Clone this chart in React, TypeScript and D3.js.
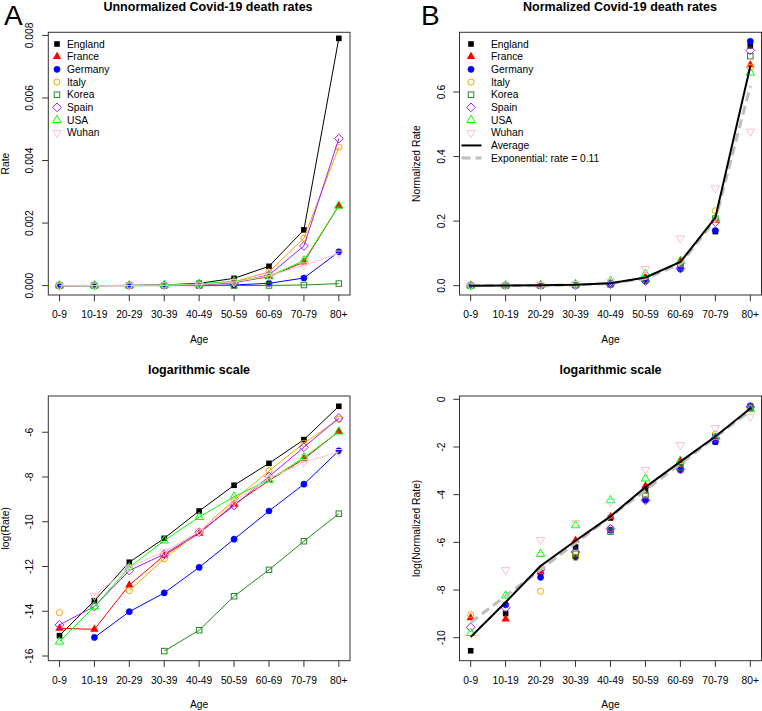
import * as d3 from "d3";
import React from "react";

const ages = ["0-9", "10-19", "20-29", "30-39", "40-49", "50-59", "60-69", "70-79", "80+"];
const countries = ["England", "France", "Germany", "Italy", "Korea", "Spain", "USA", "Wuhan"];
const colors = ["black", "red", "blue", "orange", "forestgreen", "#A020F0", "#00FF00", "pink"];
const pchs = [15, 17, 16, 1, 0, 5, 2, 6];

// log(death rate) per age group, null = no deaths recorded
const england = [-15.09, -13.53, -11.81, -10.74, -9.52, -8.37, -7.39, -6.33, -4.84];
const france = [-14.76, -14.81, -12.83, -11.51, -10.52, -9.22, -8.16, -7.19, -5.97];
const germany = [null, -15.17, -14.02, -13.18, -12.04, -10.78, -9.52, -8.32, -6.83];
const italy = [-14.06, null, -13.08, -11.66, -10.44, -9.03, -7.73, -6.49, -5.42];
const korea = [null, null, null, -15.78, -14.85, -13.33, -12.15, -10.87, -9.64];
const spain = [-14.61, -13.79, -12.18, -11.45, -10.47, -9.28, -7.98, -6.67, -5.36];
const usa = [-15.36, -13.79, -12.04, -10.84, -9.79, -8.88, -8.13, -7.13, -5.97];
const wuhan = [null, -13.3, -12.04, -11.33, -10.44, -9.1, -8.06, -7.34, -6.88];

// exponential fit (log normalized rate)
const expFit = [-9.36, -8.25, -7.14, -6.03, -4.92, -3.81, -2.7, -1.59, -0.48];

const yTicksA = [0, 0.002, 0.004, 0.006, 0.008];
const yTicksB = [0, 0.2, 0.4, 0.6];
const yTicksC = [-16, -14, -12, -10, -8, -6];
const yTicksD = [-10, -8, -6, -4, -2, 0];

const logRates = [england, france, germany, italy, korea, spain, usa, wuhan];
const rates = logRates.map(s => s.map(v => (v == null ? 0 : Math.exp(v))));
const normRates = rates.map(s => {
  const tot = d3.sum(s);
  return s.map(v => v / tot);
});
const logNorm = normRates.map(s => s.map(v => (v > 0 ? Math.log(v) : null)));
const avg = ages.map((_, i) => d3.mean(normRates, s => s[i]) as number);
const avgLog = avg.map(v => Math.log(v));
const expFitRate = expFit.map(v => Math.exp(v));

const FONT = "'Liberation Sans', Arial, Helvetica, sans-serif";
const FS = 10.3;
const R = 3.1;

function Marker({ pch, x, y, color }: { pch: number; x: number; y: number; color: string }) {
  const tr = R * 1.555;
  const up = `${x},${y - tr} ${x - tr * 0.866},${y + tr * 0.5} ${x + tr * 0.866},${y + tr * 0.5}`;
  const down = `${x},${y + tr} ${x - tr * 0.866},${y - tr * 0.5} ${x + tr * 0.866},${y - tr * 0.5}`;
  const d = R * 1.414;
  switch (pch) {
    case 15:
      return <rect x={x - 2.8} y={y - 2.8} width={5.6} height={5.6} fill={color} />;
    case 17:
      return <polygon points={up} fill={color} />;
    case 16:
      return <circle cx={x} cy={y} r={R} fill={color} stroke={color} strokeWidth={0.5} />;
    case 1:
      return <circle cx={x} cy={y} r={R} fill="none" stroke={color} strokeWidth={1} />;
    case 0:
      return <rect x={x - 2.75} y={y - 2.75} width={5.5} height={5.5} fill="none" stroke={color} strokeWidth={1} />;
    case 5:
      return <polygon points={`${x},${y - d} ${x + d},${y} ${x},${y + d} ${x - d},${y}`} fill="none" stroke={color} strokeWidth={1} />;
    case 2:
      return <polygon points={up} fill="none" stroke={color} strokeWidth={1} />;
    default:
      return <polygon points={down} fill="none" stroke={color} strokeWidth={1} />;
  }
}

type Box = { left: number; right: number; top: number; bottom: number };

function Frame({ box, y, ticks, fmt, title, titleX, titleY, ylab }: {
  box: Box; y: d3.ScaleLinear<number, number>; ticks: number[]; fmt: (v: number) => string;
  title: string; titleX: number; titleY: number; ylab: string;
}) {
  const x = d3.scaleLinear().domain([-0.32, 8.32]).range([box.left, box.right]);
  const tl = 6.2;
  const cy = (box.top + box.bottom) / 2;
  const cx = (box.left + box.right) / 2;
  return (
    <g fontFamily={FONT} fontSize={FS} fill="black">
      <rect x={box.left} y={box.top} width={box.right - box.left} height={box.bottom - box.top} fill="none" stroke="#333" strokeWidth={1} />
      {ages.map((a, i) => (
        <g key={a}>
          <line x1={x(i)} x2={x(i)} y1={box.bottom} y2={box.bottom + tl} stroke="#333" />
          <text x={x(i)} y={box.bottom + 23} textAnchor="middle">{a}</text>
        </g>
      ))}
      {ticks.map(t => (
        <g key={t}>
          <line x1={box.left - tl} x2={box.left} y1={y(t)} y2={y(t)} stroke="#333" />
          <text transform={`translate(${box.left - 15},${y(t)}) rotate(-90)`} textAnchor="middle">{fmt(t)}</text>
        </g>
      ))}
      <text x={titleX} y={titleY} textAnchor="middle" fontWeight="bold" fontSize={12.5}>{title}</text>
      <text x={cx} y={box.bottom + 47.5} textAnchor="middle">Age</text>
      <text transform={`translate(${box.left - 39.5},${cy}) rotate(-90)`} textAnchor="middle">{ylab}</text>
    </g>
  );
}

const boxA: Box = { left: 48.3, right: 350, top: 32.3, bottom: 295 };
const boxB: Box = { left: 459.5, right: 761.5, top: 32.3, bottom: 295 };
const boxC: Box = { left: 48.3, right: 350, top: 396, bottom: 660.7 };
const boxD: Box = { left: 459.5, right: 761.5, top: 396, bottom: 660.7 };

function xOf(box: Box) {
  return d3.scaleLinear().domain([-0.32, 8.32]).range([box.left, box.right]);
}

function CountryLines({ box, y, series, withLines }: {
  box: Box; y: d3.ScaleLinear<number, number>; series: (number | null)[][]; withLines: boolean;
}) {
  const x = xOf(box);
  const line = d3.line<number | null>()
    .defined(v => v != null)
    .x((_, i) => x(i))
    .y(v => y(v as number));
  return (
    <g>
      {series.map((s, c) => (
        <g key={countries[c]}>
          {withLines && <path d={line(s) || ""} fill="none" stroke={colors[c]} strokeWidth={1} />}
          {s.map((v, i) => v == null ? null : (
            <Marker key={i} pch={pchs[c]} x={x(i)} y={y(v)} color={colors[c]} />
          ))}
        </g>
      ))}
    </g>
  );
}

function FitLines({ box, y, avgS, fitS }: {
  box: Box; y: d3.ScaleLinear<number, number>; avgS: number[]; fitS: number[];
}) {
  const x = xOf(box);
  const line = d3.line<number>().x((_, i) => x(i)).y(v => y(v));
  return (
    <g>
      <path d={line(fitS) || ""} fill="none" stroke="#BEBEBE" strokeWidth={3} strokeDasharray="9,5" />
      <path d={line(avgS) || ""} fill="none" stroke="black" strokeWidth={2} />
    </g>
  );
}

function Legend({ x0, tx, y0, withFits }: { x0: number; tx: number; y0: number; withFits: boolean }) {
  const step = 12.68;
  return (
    <g fontFamily={FONT} fontSize={FS}>
      {countries.map((c, i) => (
        <g key={c}>
          <Marker pch={pchs[i]} x={x0} y={y0 + i * step} color={colors[i]} />
          <text x={tx} y={y0 + i * step} dy="0.35em">{c}</text>
        </g>
      ))}
      {withFits && (
        <g>
          <line x1={x0 - 9.5} x2={x0 + 10.5} y1={y0 + 8 * step} y2={y0 + 8 * step} stroke="black" strokeWidth={2} />
          <text x={tx} y={y0 + 8 * step} dy="0.35em">Average</text>
          <line x1={x0 - 9.5} x2={x0 + 10.5} y1={y0 + 9 * step} y2={y0 + 9 * step} stroke="#BEBEBE" strokeWidth={3} strokeDasharray="9,5" />
          <text x={tx} y={y0 + 9 * step} dy="0.35em">Exponential: rate = 0.11</text>
        </g>
      )}
    </g>
  );
}

export default function App() {
  const yA = d3.scaleLinear().domain([-0.0003, 0.0081]).range([boxA.bottom, boxA.top]);
  const yB = d3.scaleLinear().domain([-0.029, 0.785]).range([boxB.bottom, boxB.top]);
  const yC = d3.scaleLinear().domain([-16.21, -4.38]).range([boxC.bottom, boxC.top]);
  const yD = d3.scaleLinear().domain([-10.965, 0.14]).range([boxD.bottom, boxD.top]);
  return (
    <svg width={762} height={711} style={{ position: "absolute", left: 0, top: 0, background: "white" }}>
      <rect x={0} y={0} width={762} height={711} fill="white" />
      <text x={4} y={25} fontFamily={FONT} fontSize={28}>A</text>
      <text x={421} y={25} fontFamily={FONT} fontSize={28}>B</text>

      <Frame box={boxA} y={yA} ticks={yTicksA} fmt={v => v.toFixed(3)} title="Unnormalized Covid-19 death rates" titleX={208} titleY={10.5} ylab="Rate" />
      <CountryLines box={boxA} y={yA} series={rates} withLines={true} />
      <Legend x0={57} tx={67} y0={44} withFits={false} />

      <Frame box={boxB} y={yB} ticks={yTicksB} fmt={v => v.toFixed(1)} title="Normalized Covid-19 death rates" titleX={620} titleY={10.5} ylab="Normalized Rate" />
      <CountryLines box={boxB} y={yB} series={normRates} withLines={false} />
      <FitLines box={boxB} y={yB} avgS={avg} fitS={expFitRate} />
      <Legend x0={471} tx={491} y0={44} withFits={true} />

      <Frame box={boxC} y={yC} ticks={yTicksC} fmt={v => String(v)} title="logarithmic scale" titleX={199} titleY={374} ylab="log(Rate)" />
      <CountryLines box={boxC} y={yC} series={logRates} withLines={true} />

      <Frame box={boxD} y={yD} ticks={yTicksD} fmt={v => String(v)} title="logarithmic scale" titleX={610.5} titleY={374} ylab="log(Normalized Rate)" />
      <CountryLines box={boxD} y={yD} series={logNorm} withLines={false} />
      <FitLines box={boxD} y={yD} avgS={avgLog} fitS={expFit} />
    </svg>
  );
}
